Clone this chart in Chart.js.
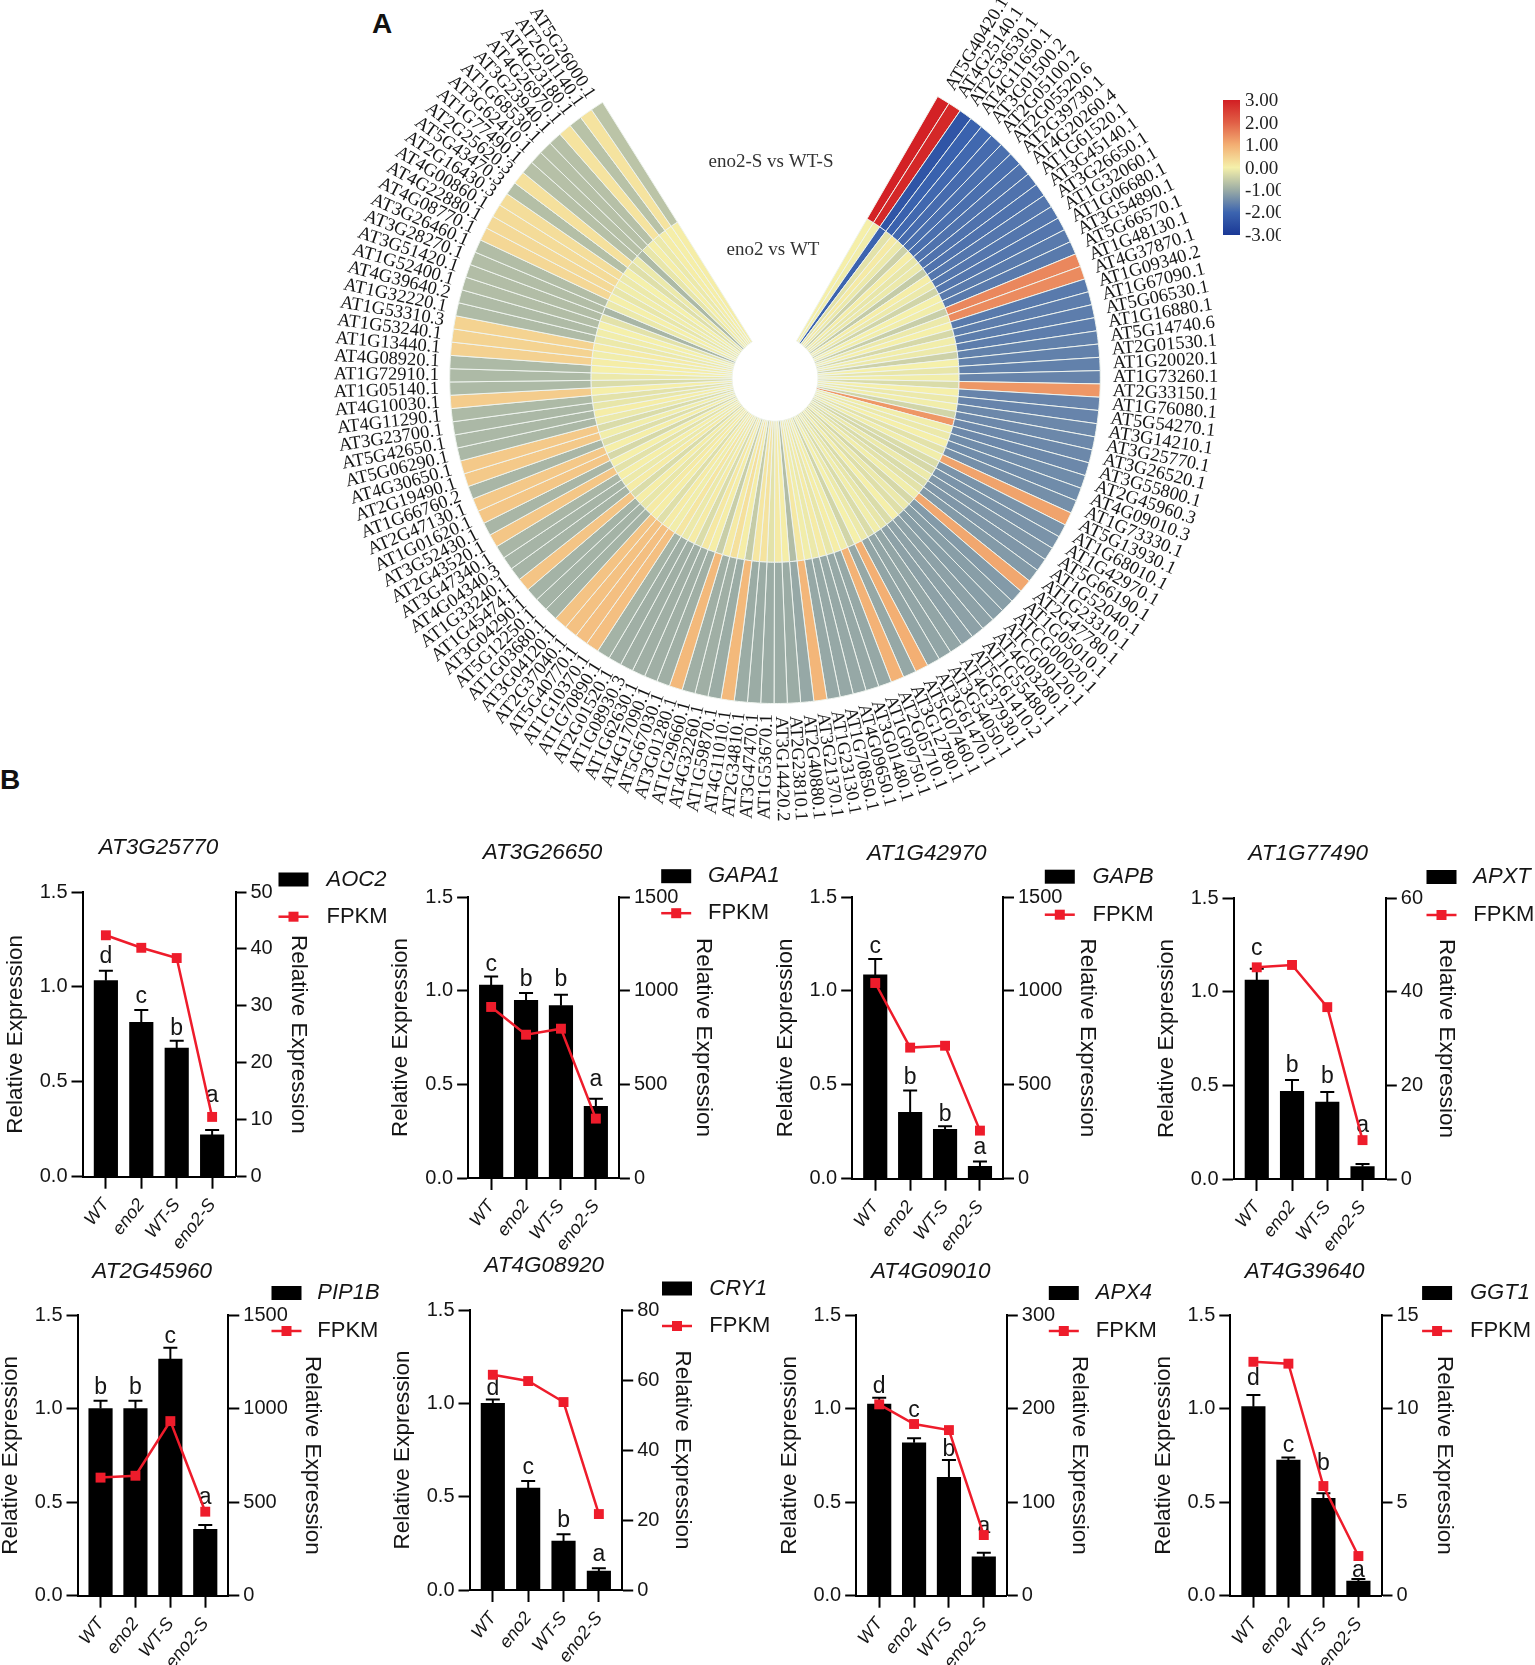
<!DOCTYPE html>
<html>
<head>
<meta charset="utf-8">
<title>eno2 expression</title>
<script src="https://cdn.jsdelivr.net/npm/chart.js@4/dist/chart.umd.js"></script>
<style>
html, body { margin: 0; background: #fff; }
#page { position: relative; width: 1535px; height: 1665px; overflow: hidden; background: #fff; }
#page canvas { position: absolute; filter: blur(0.5px); }
.tag { position: absolute; font: bold 28px "Liberation Sans", Arial, sans-serif; color: #111; }
</style>
</head>
<body>
<div id="page">
  <div class="tag" style="left:372px;top:8px">A</div>
  <div class="tag" style="left:0px;top:764px">B</div>
</div>
<script>
// Gene ids round the ring, clockwise from the gap at the top
const geneIds = [
  'AT5G40420.1','AT4G25140.1','AT2G36530.1','AT4G11650.1','AT3G01500.2','AT2G05100.2','AT2G05520.6','AT2G39730.1','AT4G20260.4','AT1G61520.1',
  'AT3G45140.1','AT3G26650.1','AT1G32060.1','AT1G06680.1','AT3G54890.1','AT5G66570.1','AT1G48130.1','AT4G37870.1','AT1G09340.2','AT1G67090.1',
  'AT5G06530.1','AT1G16880.1','AT5G14740.6','AT2G01530.1','AT1G20020.1','AT1G73260.1','AT2G33150.1','AT1G76080.1','AT5G54270.1','AT3G14210.1',
  'AT3G25770.1','AT3G26520.1','AT3G55800.1','AT2G45960.3','AT4G09010.3','AT1G73330.1','AT5G13930.1','AT1G68010.1','AT1G42970.1','AT5G66190.1',
  'AT1G52040.1','AT1G23310.1','AT2G47780.1','AT1G05010.1','ATCG00020.1','ATCG00120.1','AT4G03280.1','AT1G55480.1','AT5G61410.2','AT4G37930.1',
  'AT3G54050.1','AT3G61470.1','AT5G07460.1','AT3G12780.1','AT2G05710.1','AT1G09750.1','AT3G01480.1','AT4G09650.1','AT1G70850.1','AT1G23130.1',
  'AT3G21370.1','AT2G40880.1','AT2G23810.1','AT3G14420.2','AT1G53670.1','AT3G47470.1','AT2G34810.1','AT4G11010.1','AT1G59870.1','AT4G32260.1',
  'AT1G29660.1','AT3G01280.1','AT5G67030.1','AT4G17090.1','AT1G62630.1','AT1G08930.3','AT2G01520.1','AT1G70890.1','AT1G10370.1','AT5G40770.1',
  'AT2G37040.1','AT3G04120.1','AT1G03680.1','AT5G12250.1','AT3G04290.1','AT1G45474.1','AT1G33240.1','AT4G04340.3','AT3G47340.1','AT2G43520.1',
  'AT3G52430.1','AT1G01620.1','AT2G47130.1','AT1G66760.2','AT2G19490.1','AT4G30650.1','AT5G06290.1','AT5G42650.1','AT3G23700.1','AT4G11290.1',
  'AT4G10030.1','AT1G05140.1','AT1G72910.1','AT4G08920.1','AT1G13440.1','AT1G53240.1','AT1G53310.3','AT1G32220.1','AT4G39640.2','AT1G52400.1',
  'AT3G51420.1','AT3G28270.1','AT3G26460.1','AT4G08770.1','AT4G22880.1','AT4G00860.1','AT2G16430.3','AT5G43470.3','AT2G25620.3','AT1G77490.1',
  'AT3G62410.1','AT1G68530.1','AT3G23940.1','AT4G26970.1','AT4G23180.1','AT2G01140.1','AT5G26000.1'
];

// Outer ring: eno2-S vs WT-S
const outerValues = [
  2.95,2.85,-2.35,-2.05,-1.95,-1.9,-1.85,-1.85,-1.8,-1.8,
  -1.8,-1.75,-1.75,-1.75,-1.7,-1.7,1.5,1.45,-1.7,-1.65,
  -1.65,-1.65,-1.6,-1.6,-1.6,-1.55,1.3,-1.55,-1.55,-1.5,
  -1.5,-1.5,-1.5,-1.45,-1.45,-1.4,1.15,-1.35,-1.35,-1.3,
  -1.3,-1.25,1.1,-1.25,-1.2,-1.2,-1.15,-1.15,-1.15,-1.1,
  -1.1,-1.1,1.0,-1.05,0.95,-1.05,-1.05,-1.05,-1.05,-1.05,
  0.9,-1.05,-1.0,-1.0,-1.0,-1.0,-1.0,0.85,-1.0,-0.95,
  -0.95,0.85,-0.95,-0.95,-0.95,-0.95,-0.95,-0.9,0.75,0.75,
  0.72,0.7,-0.9,-0.9,-0.9,0.68,-0.88,-0.88,-0.85,0.65,
  -0.85,0.65,0.62,-0.85,0.6,0.6,-0.82,-0.82,-0.82,-0.8,
  0.55,-0.8,-0.8,-0.8,0.48,0.45,0.45,-0.78,-0.78,-0.75,
  -0.75,-0.75,-0.75,0.38,0.35,0.32,0.3,-0.72,0.25,-0.7,
  -0.7,-0.7,-0.7,0.2,-0.68,0.2,-0.65
];

// Inner ring: eno2 vs WT
const innerValues = [
  0.02,-0.05,-2.0,-0.2,0.1,-0.1,-0.45,0.05,-0.15,-0.1,
  -0.55,0.05,-0.1,-0.4,0.0,-0.05,-0.5,-0.1,0.02,-0.35,
  -0.05,-0.1,-0.45,0.0,-0.15,-0.05,-0.3,0.02,-0.1,-0.05,
  -0.4,1.3,-0.05,-0.1,0.02,-0.2,-0.05,-0.3,-0.35,-0.1,
  -0.3,-0.2,-0.05,-0.35,-0.1,-0.25,0.02,-0.3,-0.15,-0.05,
  -0.3,-0.1,0.0,-0.4,-0.05,0.05,-0.15,0.08,-0.1,-0.05,
  0.12,-0.75,0.05,0.1,-0.2,0.2,0.15,-0.55,0.05,0.25,
  0.1,-0.5,0.05,0.12,-0.3,0.08,-0.1,0.15,-0.05,0.08,
  -0.25,0.05,0.1,-0.15,0.05,-0.3,0.08,-0.1,0.03,-0.2,
  0.02,-0.35,0.03,-0.25,-0.05,-0.3,-0.1,0.05,-0.15,-0.2,
  0.03,-0.3,-0.1,0.02,0.05,-0.05,0.08,-0.1,-0.05,0.0,
  -0.2,-0.85,-0.1,0.02,-0.15,-0.05,-0.1,0.0,-0.25,-0.1,
  -0.8,-0.15,0.03,-0.1,0.05,0.03,0.05
];

// Colour bar stops and labels
const heatStopValues = [-3, -2, -1, 0, 1, 2, 3];
const heatStopColors = [[26,56,150],[60,100,175],[155,172,165],[245,240,170],[243,175,115],[225,95,70],[210,30,35]];
const heatTicks = ['3.00','2.00','1.00','0.00','-1.00','-2.00','-3.00'];

// Bar panels
const groupNames = ['WT','eno2','WT-S','eno2-S'];
const panelTitles = ['AT3G25770','AT3G26650','AT1G42970','AT1G77490','AT2G45960','AT4G08920','AT4G09010','AT4G39640'];
const panelSymbols = ['AOC2','GAPA1','GAPB','APXT','PIP1B','CRY1','APX4','GGT1'];
const barValues = [
  [1.033,0.813,0.678,0.22],
  [1.03,0.948,0.92,0.382],
  [1.085,0.353,0.263,0.066],
  [1.062,0.468,0.411,0.066],
  [1.0,1.0,1.265,0.354],
  [1.0,0.546,0.262,0.102],
  [1.024,0.817,0.632,0.208],
  [1.01,0.725,0.52,0.078]
];
const errorValues = [
  [0.052,0.065,0.038,0.026],
  [0.046,0.04,0.058,0.041],
  [0.085,0.117,0.016,0.026],
  [0.06,0.06,0.053,0.014],
  [0.042,0.042,0.06,0.024],
  [0.021,0.038,0.036,0.014],
  [0.034,0.024,0.093,0.022],
  [0.062,0.014,0.027,0.011]
];
const fpkmValues = [
  [42.4,40.2,38.4,10.5],
  [913,765,797,317],
  [1042,698,708,256],
  [45.2,45.7,36.7,8.3],
  [631,641,933,449],
  [61.5,59.7,53.7,21.7],
  [204.5,183.5,177,64.8],
  [12.5,12.4,5.86,2.12]
];
const fpkmMax = [50,1500,1500,60,1500,80,300,15];
const fpkmStep = [10,500,500,20,500,20,100,5];
const letterNames = [
  ['d','c','b','a'],['c','b','b','a'],['c','b','b','a'],['c','b','b','a'],
  ['b','b','c','a'],['d','c','b','a'],['d','c','b','a'],['d','c','b','a']
];
// height of each letter's baseline, read on the left axis
const letterHeights = [
  [1.127,0.913,0.746,0.392],
  [1.103,1.026,1.023,0.489],
  [1.202,0.504,0.305,0.133],
  [1.195,0.573,0.51,0.253],
  [1.076,1.076,1.352,0.49],
  [1.045,0.62,0.336,0.157],
  [1.085,0.953,0.746,0.333],
  [1.125,0.766,0.671,0.101]
];

// Page positions of each panel (not data)
const panelBoxes = [
  {left:82,   right:235,    top:892,  bottom:1176.7, leftTitle:15,    rightTitle:298,   titleX:158,    titleY:848,  rectX:278,    textX:326,    symY:879.5,fpkmY:916.7},
  {left:467.6,right:618.4,  top:897.3,bottom:1178.3, leftTitle:400,   rightTitle:703,   titleX:542,    titleY:853,  rectX:660.7,  textX:707.5,  symY:876.5,fpkmY:913.5},
  {left:852.4,right:1003.2, top:897.3,bottom:1179,   leftTitle:785.7, rightTitle:1087,  titleX:927,    titleY:854,  rectX:1045,   textX:1092.7, symY:877,  fpkmY:915},
  {left:1233, right:1385.3, top:898,  bottom:1179,   leftTitle:1166,  rightTitle:1446,  titleX:1307.7, titleY:854,  rectX:1426,   textX:1472.8, symY:877,  fpkmY:915},
  {left:77,   right:227.8,  top:1315, bottom:1595.7, leftTitle:10,    rightTitle:312,   titleX:151.7,  titleY:1271.7,rectX:271,   textX:316.8,  symY:1293, fpkmY:1331},
  {left:469,  right:621.7,  top:1310, bottom:1590,   leftTitle:402,   rightTitle:681.4, titleX:543.7,  titleY:1266, rectX:661.5,  textX:708.8,  symY:1288.5,fpkmY:1326},
  {left:856.4,right:1007,   top:1315, bottom:1595.7, leftTitle:789.7, rightTitle:1079,  titleX:931,    titleY:1271.7,rectX:1049,  textX:1096,   symY:1293, fpkmY:1331},
  {left:1230.6,right:1381.8,top:1315, bottom:1595.7, leftTitle:1163.8,rightTitle:1444.6,titleX:1305,   titleY:1271.7,rectX:1422.4,textX:1470.3, symY:1293, fpkmY:1331}
];

const SANS = '"Liberation Sans", Arial, sans-serif';
const SERIF = '"Liberation Serif", "Times New Roman", serif';
const INK = '#151515';
const RED = '#ee1c2b';

function heatColor(v) {
  let k = 0;
  while (k < heatStopValues.length - 2 && v > heatStopValues[k + 1]) k++;
  const t = (v - heatStopValues[k]) / (heatStopValues[k + 1] - heatStopValues[k]);
  const a = heatStopColors[k], b = heatStopColors[k + 1];
  return 'rgb(' + a.map((c, n) => Math.round(c + (b[n] - c) * t)).join(',') + ')';
}

function addCanvas(x, y, w, h) {
  const c = document.createElement('canvas');
  c.width = w;
  c.height = h;
  c.style.left = x + 'px';
  c.style.top = y + 'px';
  c.style.width = w + 'px';
  c.style.height = h + 'px';
  document.getElementById('page').appendChild(c);
  return c;
}

// Ring heatmap, gene labels and colour bar
function drawRing() {
  const canvas = addCanvas(0, 0, 1535, 830);

  const ringDecor = {
    id: 'ringDecor',
    afterDraw(chart) {
      const ctx = chart.ctx;
      const arcs = chart.getDatasetMeta(0).data;
      ctx.save();
      ctx.fillStyle = INK;
      ctx.font = '18.5px ' + SERIF;
      ctx.textBaseline = 'middle';
      arcs.forEach((arc, i) => {
        const a = (arc.startAngle + arc.endAngle) / 2;
        const onRight = Math.cos(a) > 0;
        const r = onRight ? 338 : 336;
        ctx.save();
        ctx.translate(arc.x + r * Math.cos(a), arc.y + r * Math.sin(a));
        ctx.rotate(onRight ? a : a + Math.PI);
        ctx.textAlign = onRight ? 'left' : 'right';
        ctx.fillText(geneIds[i], 0, 0);
        ctx.restore();
      });

      // ring names
      ctx.fillStyle = '#333';
      ctx.font = '19px ' + SERIF;
      ctx.textAlign = 'center';
      ctx.fillText('eno2-S vs WT-S', 771, 162);
      ctx.fillText('eno2 vs WT', 773, 250);

      // colour bar
      const grad = ctx.createLinearGradient(0, 100, 0, 235);
      heatStopValues.forEach(v => grad.addColorStop((3 - v) / 6, heatColor(v)));
      ctx.fillStyle = grad;
      ctx.fillRect(1223, 100, 17, 135);
      ctx.beginPath();
      ctx.rect(1223, 90, 58, 160);
      ctx.clip();
      ctx.fillStyle = '#222';
      ctx.font = '19px ' + SERIF;
      ctx.textAlign = 'left';
      heatTicks.forEach((t, i) => ctx.fillText(t, 1245, 101.5 + i * 22.4));
      ctx.restore();
    }
  };

  new Chart(canvas.getContext('2d'), {
    type: 'doughnut',
    data: {
      labels: geneIds,
      datasets: [
        { data: geneIds.map(() => 1), backgroundColor: outerValues.map(heatColor) },
        { data: geneIds.map(() => 1), backgroundColor: innerValues.map(heatColor) }
      ]
    },
    options: {
      responsive: false,
      animation: false,
      devicePixelRatio: 1,
      rotation: 30,
      circumference: 298,
      cutout: 40,
      borderColor: '#eef3ee',
      borderWidth: 1,
      layout: { padding: { left: 449, right: 434, top: 96, bottom: 126 } },
      plugins: { legend: { display: false }, tooltip: { enabled: false } }
    },
    plugins: [ringDecor]
  });
}

// One bar + FPKM panel
function drawPanel(i) {
  const box = panelBoxes[i];
  const TITLE_H = 13.5;
  const canvasLeft = box.leftTitle - TITLE_H;
  const canvasTop = box.top - 65;
  const canvasW = Math.ceil(box.textX + 100 - canvasLeft);
  const canvasH = Math.ceil(box.bottom + 80 - canvasTop);
  const canvas = addCanvas(canvasLeft, canvasTop, canvasW, canvasH);

  const panelDecor = {
    id: 'panelDecor',
    afterDatasetDraw(chart, args) {
      if (args.index !== 0) return;
      const ctx = chart.ctx;
      const x = chart.scales.x, y = chart.scales.y;
      ctx.save();
      ctx.strokeStyle = '#000';
      ctx.lineWidth = 2;
      ctx.fillStyle = INK;
      ctx.font = '23px ' + SANS;
      ctx.textAlign = 'center';
      ctx.textBaseline = 'alphabetic';
      barValues[i].forEach((v, n) => {
        const px = x.getPixelForValue(n);
        const y0 = y.getPixelForValue(v);
        const y1 = y.getPixelForValue(v + errorValues[i][n]);
        ctx.beginPath();
        ctx.moveTo(px, y0);
        ctx.lineTo(px, y1);
        ctx.moveTo(px - 7, y1);
        ctx.lineTo(px + 7, y1);
        ctx.stroke();
        ctx.fillText(letterNames[i][n], px, y.getPixelForValue(letterHeights[i][n]));
      });
      ctx.restore();
    },
    afterDraw(chart) {
      const ctx = chart.ctx;
      ctx.save();
      ctx.fillStyle = INK;
      ctx.textBaseline = 'middle';
      ctx.textAlign = 'center';
      ctx.font = 'italic 22.5px ' + SANS;
      ctx.fillText(panelTitles[i], box.titleX - canvasLeft, box.titleY - canvasTop);

      // legend
      const rx = box.rectX - canvasLeft;
      ctx.fillStyle = '#000';
      ctx.fillRect(rx, box.symY - canvasTop - 7, 30, 14);
      const fy = box.fpkmY - canvasTop;
      ctx.strokeStyle = RED;
      ctx.lineWidth = 2.5;
      ctx.beginPath();
      ctx.moveTo(rx, fy);
      ctx.lineTo(rx + 30, fy);
      ctx.stroke();
      ctx.fillStyle = RED;
      ctx.fillRect(rx + 10, fy - 5, 10, 10);
      ctx.fillStyle = INK;
      ctx.textAlign = 'left';
      ctx.font = 'italic 22px ' + SANS;
      ctx.fillText(panelSymbols[i], box.textX - canvasLeft, box.symY - canvasTop);
      ctx.font = '22px ' + SANS;
      ctx.fillText('FPKM', box.textX - canvasLeft, box.fpkmY - canvasTop);
      ctx.restore();
    }
  };

  const axisLine = { display: true, color: '#000', width: 2 };
  const axisGrid = { drawOnChartArea: false, color: '#000', tickColor: '#000', tickWidth: 2, tickLength: 11 };
  const tickFont = { family: SANS, size: 20 };
  const axisTitle = { display: true, text: 'Relative Expression', color: INK, padding: 0, font: { family: SANS, size: 22.5 } };

  new Chart(canvas.getContext('2d'), {
    data: {
      datasets: [
        {
          type: 'bar',
          order: 2,
          data: barValues[i].map((v, n) => ({ x: n, y: v })),
          backgroundColor: '#000',
          barThickness: 23.5,
          yAxisID: 'y'
        },
        {
          type: 'line',
          order: 1,
          data: fpkmValues[i].map((v, n) => ({ x: n, y: v })),
          borderColor: RED,
          borderWidth: 2.5,
          backgroundColor: RED,
          pointStyle: 'rect',
          pointRadius: 7,
          pointBorderWidth: 0,
          tension: 0,
          clip: false,
          yAxisID: 'y1'
        }
      ]
    },
    options: {
      responsive: false,
      animation: false,
      devicePixelRatio: 1,
      layout: { padding: { left: 0, top: box.top - canvasTop, right: canvasLeft + canvasW - box.rightTitle - TITLE_H, bottom: 0 } },
      plugins: { legend: { display: false }, tooltip: { enabled: false } },
      scales: {
        x: {
          type: 'linear',
          offset: false,
          min: -0.66,
          max: 3.66,
          border: axisLine,
          grid: Object.assign({}, axisGrid, { offset: false, tickLength: 12 }),
          afterBuildTicks: scale => { scale.ticks = groupNames.map((_, n) => ({ value: n })); },
          afterFit: scale => { scale.height = canvasTop + canvasH - box.bottom; },
          ticks: {
            autoSkip: false,
            minRotation: 52,
            maxRotation: 52,
            padding: 6,
            color: INK,
            font: { family: SANS, size: 18, style: 'italic' },
            callback: v => groupNames[v]
          }
        },
        y: {
          position: 'left',
          min: 0,
          max: 1.5,
          border: axisLine,
          grid: axisGrid,
          title: axisTitle,
          afterFit: scale => { scale.width = box.left - canvasLeft; },
          ticks: { stepSize: 0.5, padding: 4, color: INK, font: tickFont, callback: v => v.toFixed(1) }
        },
        y1: {
          position: 'right',
          min: 0,
          max: fpkmMax[i],
          border: axisLine,
          grid: axisGrid,
          title: axisTitle,
          afterFit: scale => { scale.width = box.rightTitle + TITLE_H - box.right; },
          ticks: { stepSize: fpkmStep[i], padding: 4, color: INK, font: tickFont, callback: v => String(v) }
        }
      }
    },
    plugins: [panelDecor]
  });
}

drawRing();
panelBoxes.forEach((_, i) => drawPanel(i));
</script>
</body>
</html>
